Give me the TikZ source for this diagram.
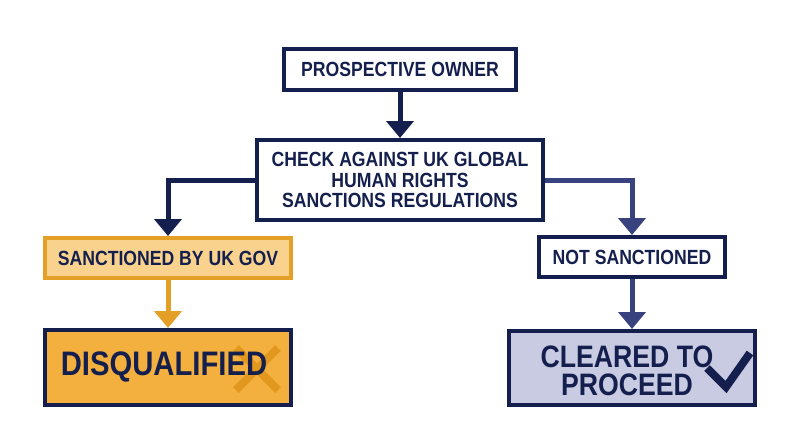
\documentclass[tikz,border=0pt]{standalone}
\usepackage{fontspec}
\setmainfont{Liberation Sans}[FakeStretch=0.86]
\usetikzlibrary{arrows.meta}
\definecolor{navy}{RGB}{20,31,77}
\definecolor{midnavy}{RGB}{56,66,126}
\definecolor{orangeln}{RGB}{228,160,38}
\definecolor{sancfill}{RGB}{249,211,142}
\definecolor{disqfill}{RGB}{244,176,62}
\definecolor{clearfill}{RGB}{200,203,226}
\definecolor{xcol}{RGB}{226,152,30}
\tikzset{
  box/.style={draw=navy,line width=4pt,fill=white,inner sep=0pt,font=\bfseries\fontsize{20.5}{20.5}\selectfont,text=navy,align=center},
  conn/.style={line width=5pt,-{Triangle[width=27pt,length=17pt]}},
}
\begin{document}
\begin{tikzpicture}[x=1pt,y=-1pt]
\useasboundingbox[fill=white] (0,0) rectangle (800,447);
\node[box,minimum width=232pt,minimum height=41pt] (owner) at (400,69.5) {PROSPECTIVE OWNER};
\node[box,minimum width=286pt,minimum height=80pt] (check) at (400,180) {CHECK AGAINST UK GLOBAL\\HUMAN RIGHTS\\SANCTIONS REGULATIONS};
\node[box,draw=orangeln,fill=sancfill,minimum width=246pt,minimum height=40pt] (sanc) at (168,258) {SANCTIONED BY UK GOV};
\node[box,minimum width=186pt,minimum height=40pt] (notsanc) at (632,257) {NOT SANCTIONED};
\node[box,fill=disqfill,minimum width=246pt,minimum height=75pt] (disq) at (168,367.5) {};
\coordinate (xa) at (236,348);
\coordinate (xb) at (278,390);
\coordinate (xc) at (236,390);
\coordinate (xd) at (278,348);
\draw[xcol,line width=8pt] (xa) -- (xb) (xc) -- (xd);
\node[font=\bfseries\fontsize{34}{36}\selectfont,text=navy] (disqtext) at (164,367) {DISQUALIFIED};
\node[box,fill=clearfill,minimum width=246pt,minimum height=74pt] (clear) at (632,368) {};
\node[font=\bfseries\fontsize{31}{28}\selectfont,text=navy,align=center,inner sep=0pt] (cleartext) at (627,371) {CLEARED TO\\PROCEED};
\coordinate (ca) at (707,368);
\coordinate (cb) at (726,387);
\coordinate (cc) at (750,353);
\draw[navy,line width=8pt,line join=miter] (ca) -- (cb) -- (cc);
\draw[conn,navy] (owner.south) -- (check.north);
\draw[conn,navy] (check.west) -| (sanc.north);
\draw[conn,midnavy] (check.east) -| (notsanc.north);
\draw[conn,orangeln] (sanc.south) -- (disq.north);
\draw[conn,midnavy] (notsanc.south) -- (clear.north);
\end{tikzpicture}
\end{document}
